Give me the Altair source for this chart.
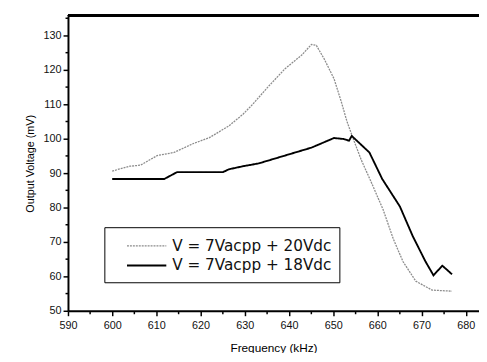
import altair as alt
import pandas as pd

freq_20 = [600, 604, 606.4, 610.2, 614, 618.4, 622, 626.4, 629.6, 631.8, 635.3, 639.1, 642.9, 645.1, 646.2, 648, 650.2, 651.8, 653.1, 654.7, 656.4, 658.4, 661.3, 663.6, 665.8, 668.7, 672.4, 676.9]
volt_20 = [90.6, 92.0, 92.3, 95.1, 96.0, 98.6, 100.3, 103.7, 107.1, 110.0, 115.1, 120.3, 124.3, 127.4, 127.1, 123.1, 117.4, 110.9, 105.1, 99.4, 93.7, 88.0, 79.4, 70.9, 64.3, 58.6, 56.0, 55.7]

freq_18 = [600, 611.8, 614.7, 625.1, 626.4, 629.6, 633.1, 639.1, 645.1, 650.2, 652.4, 653.6, 654.2, 658.2, 661.1, 665.1, 668, 670.9, 672.7, 674.7, 676.9]
volt_18 = [88.3, 88.3, 90.3, 90.3, 91.1, 92.0, 92.8, 95.1, 97.4, 100.2, 99.9, 99.4, 100.8, 96.0, 88.3, 80.3, 71.7, 64.3, 60.3, 63.1, 60.6]

labels = ["V = 7Vacpp + 20Vdc", "V = 7Vacpp + 18Vdc"]

df = pd.concat([
    pd.DataFrame({"f": freq_20, "v": volt_20, "s": labels[0], "o": range(len(freq_20))}),
    pd.DataFrame({"f": freq_18, "v": volt_18, "s": labels[1], "o": range(len(freq_18))}),
])

font = "Liberation Sans"

x = alt.X("f:Q", scale=alt.Scale(domain=[590, 683], nice=False, zero=False),
          title="Frequency (kHz)",
          axis=alt.Axis(values=list(range(590, 684, 5)),
                        labelExpr="datum.value % 10 === 0 ? datum.value : ''",
                        tickSize={"condition": {"test": "datum.value % 10 === 0", "value": 5}, "value": 3},
                        grid=False, domainWidth=2, domainColor="black", tickColor="black",
                        tickWidth=1.5, labelFontSize=11, labelColor="#111", labelFont=font,
                        titleFont=font, titleFontSize=12, titleFontWeight="normal", titlePadding=12,
                        labelPadding=4, labelFlush=False))
y = alt.Y("v:Q", scale=alt.Scale(domain=[50, 135.7], nice=False, zero=False),
          title="Output Voltage (mV)",
          axis=alt.Axis(values=list(range(50, 136, 5)),
                        labelExpr="datum.value % 10 === 0 ? datum.value : ''",
                        tickSize={"condition": {"test": "datum.value % 10 === 0", "value": 5}, "value": 3},
                        grid=False, domainWidth=2, domainColor="black", tickColor="black",
                        tickWidth=1.5, labelFontSize=11, labelColor="#111", labelFont=font,
                        titleFont=font, titleFontSize=11, titleFontWeight="normal", titlePadding=8,
                        labelPadding=2))

lines = alt.Chart(df).mark_line().encode(
    x=x, y=y, order="o:Q",
    color=alt.Color("s:N", scale=alt.Scale(domain=labels, range=["#8c8c8c", "#000000"]),
                    legend=alt.Legend(title=None, orient="none", legendX=37, legendY=215,
                                      symbolType="M-2,0H2", symbolSize=400, symbolStrokeWidth=1.8,
                                      symbolOffset=24, labelLimit=400,
                                      labelFontSize=15.5, labelFont="DejaVu Sans", labelColor="#111",
                                      strokeColor="black", padding=8, rowPadding=0,
                                      labelOffset=15, fillColor="white")),
    strokeWidth=alt.StrokeWidth("s:N", scale=alt.Scale(domain=labels, range=[1.3, 1.9]), legend=None),
    strokeDash=alt.StrokeDash("s:N", scale=alt.Scale(domain=labels, range=[[2, 1], [1, 0]]), legend=None),
)

top = alt.Chart(df).mark_rule(color="black", strokeWidth=2).encode(
    y=alt.value(0), x=alt.value(0), x2=alt.value(418))

chart = alt.layer(lines, top).properties(
    width=418, height=300,
    autosize=alt.AutoSizeParams(type="none"),
    padding={"left": 61, "top": 5, "right": 0, "bottom": 40},
).configure_view(stroke=None)

chart.save("out.html", embed_options={"renderer": "svg", "actions": False})
